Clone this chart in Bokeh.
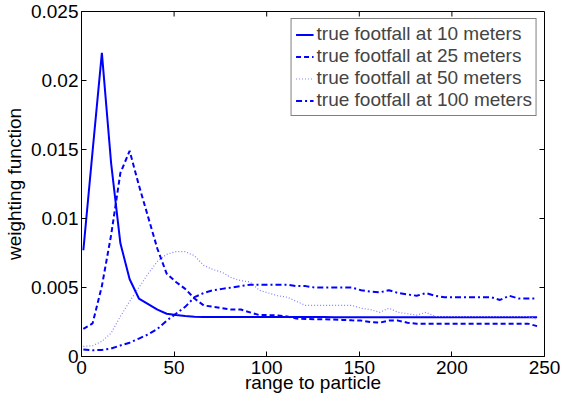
import math
from bokeh.plotting import figure
from bokeh.models import FixedTicker, Legend, LegendItem, Range1d
from bokeh.embed import file_html
from bokeh.resources import INLINE

# ---- data ----
range_m = [1, 6, 11, 16, 21, 26, 31, 36, 41, 46,
           51, 56, 61, 66, 71, 76, 81, 86, 91, 96,
           101, 106, 111, 116, 121, 126, 131, 136, 141, 146,
           151, 156, 161, 166, 171, 176, 181, 186, 191, 196,
           201, 206, 211, 216, 221, 226, 231, 236, 241, 246]

w_10m = [0.0077, 0.0149, 0.0220, 0.0140, 0.0082, 0.0056, 0.0042, 0.0038, 0.0034, 0.0031,
         0.00300, 0.00293, 0.00288, 0.00287, 0.00287, 0.00287, 0.00287, 0.00287, 0.00287, 0.00286,
         0.00286, 0.00286, 0.00286, 0.00286, 0.00286, 0.00286, 0.00286, 0.00285, 0.00285, 0.00285,
         0.00285, 0.00285, 0.00285, 0.00285, 0.00285, 0.00285, 0.00285, 0.00285, 0.00285, 0.00285,
         0.00285, 0.00285, 0.00285, 0.00285, 0.00285, 0.00285, 0.00285, 0.00285, 0.00285, 0.00285]

w_25m = [0.0020, 0.0024, 0.0051, 0.0088, 0.0133, 0.0149, 0.0124, 0.0101, 0.0078, 0.0060,
         0.0054, 0.0049, 0.0042, 0.0037, 0.0036, 0.0035, 0.0034, 0.0034, 0.0032, 0.0030,
         0.0030, 0.00297, 0.0029, 0.00275, 0.00272, 0.0027, 0.0027, 0.00268, 0.00265, 0.00262,
         0.0026, 0.0025, 0.00245, 0.0026, 0.0026, 0.00245, 0.00238, 0.00238, 0.00238, 0.00238,
         0.00238, 0.00238, 0.00238, 0.00238, 0.00238, 0.00238, 0.00238, 0.00238, 0.00238, 0.0022]

w_50m = [0.00073, 0.00078, 0.0011, 0.0017, 0.0029, 0.0040, 0.0050, 0.0060, 0.0069, 0.0074,
         0.0076, 0.0076, 0.0073, 0.0066, 0.0063, 0.0061, 0.0057, 0.0055, 0.0054, 0.0048,
         0.0046, 0.0044, 0.0043, 0.0040, 0.0037, 0.0037, 0.0037, 0.0037, 0.0037, 0.0037,
         0.0035, 0.0034, 0.0032, 0.0035, 0.0032, 0.0031, 0.0030, 0.0032, 0.0029, 0.0029,
         0.0029, 0.0029, 0.0029, 0.0029, 0.0029, 0.0029, 0.0029, 0.0029, 0.0029, 0.0027]

w_100m = [0.0005, 0.00045, 0.00048, 0.00058, 0.0008, 0.0010, 0.0013, 0.0016, 0.0020, 0.0026,
          0.0031, 0.0036, 0.0043, 0.0046, 0.0048, 0.0049, 0.0050, 0.0051, 0.0052, 0.0052,
          0.0052, 0.0052, 0.0052, 0.0051, 0.0051, 0.0050, 0.0050, 0.0050, 0.0050, 0.0050,
          0.0048, 0.0047, 0.00465, 0.0048, 0.0046, 0.0045, 0.0044, 0.0046, 0.0044, 0.0043,
          0.0043, 0.0043, 0.0043, 0.0043, 0.0043, 0.0041, 0.0044, 0.0042, 0.0042, 0.0042]

series_labels = ["true footfall at 10 meters", "true footfall at 25 meters",
                 "true footfall at 50 meters", "true footfall at 100 meters"]

x_ticks = [0, 50, 100, 150, 200, 250]
y_ticks = [0, 0.005, 0.01, 0.015, 0.02, 0.025]
y_tick_labels = ["0", "0.005", "0.01", "0.015", "0.02", "0.025"]

FONT = "Liberation Sans"
FS = "19px"

x_min, x_max = x_ticks[0], x_ticks[-1]
y_min, y_max = y_ticks[0], y_ticks[-1]

p = figure(width=564, height=395, output_backend="svg", toolbar_location=None,
           x_range=Range1d(x_min, x_max), y_range=Range1d(y_min, y_max),
           min_border_left=75, min_border_right=20, min_border_top=11, min_border_bottom=30,
           background_fill_color="white", border_fill_color="white")
p.grid.visible = False
p.outline_line_color = "black"
p.outline_line_width = 1

r1 = p.line(range_m, w_10m, line_color="#0000ff", line_width=2)
r2 = p.line(range_m, w_25m, line_color="#0000ff", line_width=2, line_dash="5 3")
r3 = p.line(range_m, w_50m, line_color="#8080ff", line_width=1.2, line_dash="1 2")
r4 = p.line(range_m, w_100m, line_color="#0000ff", line_width=2, line_dash="6 3 2 3")

# mirrored inward ticks on the top and right edges of the box (clipped to the frame)
top_ticks = x_ticks[1:-1]
right_ticks = y_ticks[1:-1]
p.scatter(x=top_ticks, y=[y_max] * len(top_ticks), marker="dash", size=10,
          angle=math.pi / 2, line_color="black", line_width=1)
p.scatter(x=[x_max] * len(right_ticks), y=right_ticks, marker="dash", size=10,
          line_color="black", line_width=1)

# axes
xa = p.xaxis[0]
xa.ticker = FixedTicker(ticks=x_ticks)
xa.axis_label = "range to particle"
ya = p.yaxis[0]
ya.ticker = FixedTicker(ticks=y_ticks)
ya.major_label_overrides = {t: s for t, s in zip(y_ticks, y_tick_labels)}
ya.axis_label = "weighting function"
for ax in (xa, ya):
    ax.major_tick_in = 5
    ax.major_tick_out = 0
    ax.minor_tick_line_color = None
    ax.axis_line_color = "black"
    ax.major_tick_line_color = "black"
    ax.major_label_text_font = FONT
    ax.major_label_text_font_size = FS
    ax.major_label_text_color = "black"
    ax.axis_label_text_font = FONT
    ax.axis_label_text_font_size = FS
    ax.axis_label_text_font_style = "normal"
    ax.axis_label_text_color = "black"
xa.major_label_standoff = 4
xa.axis_label_standoff = -5
ya.major_label_standoff = 3
ya.axis_label_standoff = 3

legend = Legend(items=[LegendItem(label=series_labels[0], renderers=[r1]),
                       LegendItem(label=series_labels[1], renderers=[r2]),
                       LegendItem(label=series_labels[2], renderers=[r3]),
                       LegendItem(label=series_labels[3], renderers=[r4])],
                location="top_right", margin=7, padding=4, spacing=0,
                glyph_width=18, glyph_height=21, label_standoff=3,
                label_text_font=FONT, label_text_font_size=FS, label_height=21,
                border_line_color="black", border_line_width=1,
                background_fill_color="white", background_fill_alpha=1)
p.add_layout(legend)

open("out.html", "w").write(file_html(p, INLINE))
